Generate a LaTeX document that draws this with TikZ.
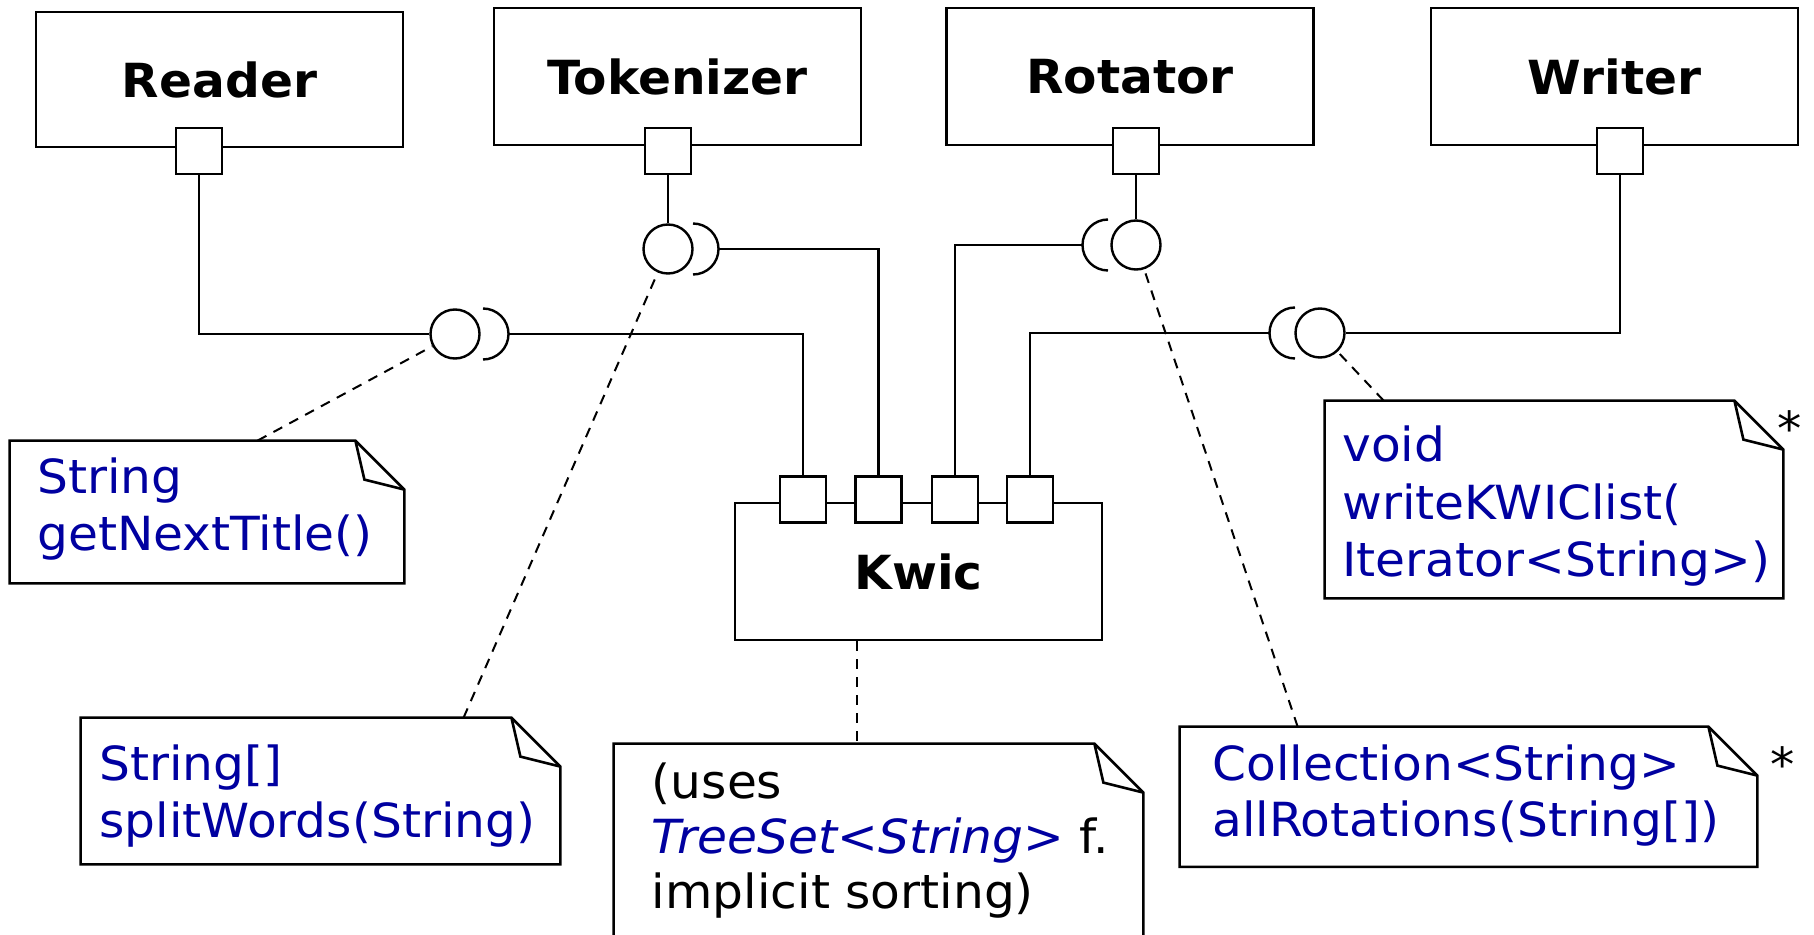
\documentclass[tikz,border=0pt]{standalone}
\usepackage{fontspec}
\setmainfont{DejaVu Sans}[FakeStretch=1.035]
\definecolor{ublue}{RGB}{0,0,160}
\begin{document}
\begin{tikzpicture}[x=0.5pt,y=-0.5pt,
  comp/.style={draw, line width=1.3pt, minimum width=183.5pt, minimum height=68.5pt, inner sep=0, font=\fontsize{23.5}{28}\selectfont\bfseries},
  port/.style={draw, fill=white, line width=1.2pt, minimum size=23pt, inner sep=0},
  ball/.style={draw, circle, line width=1.2pt, minimum size=24.5pt, inner sep=0},
  wire/.style={line width=1.2pt},
  sock/.style={line width=1.2pt},
  link/.style={line width=1pt, dash pattern=on 5pt off 4pt},
  notebox/.style={inner sep=0},
  noteline/.style={line width=1.3pt, line join=miter},
  ntext/.style={anchor=base west, inner sep=0, font=\fontsize{23.5}{28}\selectfont, text=ublue},
  btext/.style={anchor=base west, inner sep=0, font=\fontsize{23.5}{28}\selectfont, text=black},
  star/.style={anchor=base, inner sep=0, font=\fontsize{23.5}{28}\selectfont},
]
\useasboundingbox (0,0) rectangle (1814,935);
\clip (0,0) rectangle (1814,935);

% components
\node[comp, minimum height=67.5pt] (reader) at (219.5,79.5) {Reader};
\node[comp] (tok) at (677.5,76.5) {Tokenizer};
\node[comp] (rot) at (1130,76.5) {Rotator};
\node[comp] (wri) at (1614.5,76.5) {Writer};
\node[comp] (kwic) at (918.5,571.5) {Kwic};

% ports
\node[port] (rp) at (199,151) {};
\node[port] (tp) at (668,151) {};
\node[port] (op) at (1136,151) {};
\node[port] (wp) at (1620,151) {};
\node[port] (k1) at (803,499.5) {};
\node[port] (k2) at (878.5,499.5) {};
\node[port] (k3) at (955,499.5) {};
\node[port] (k4) at (1030,499.5) {};

% provided interfaces (balls)
\node[ball] (rb) at (455,334) {};
\node[ball] (tb) at (668,249) {};
\node[ball] (ob) at (1136,245) {};
\node[ball] (wb) at (1320,333) {};

% required interfaces (sockets)
\draw[sock] (483,359.5) arc[start angle=-90, end angle=90, radius=12.75pt];
\coordinate (rs) at (508.5,334);
\draw[sock] (693,274.5) arc[start angle=-90, end angle=90, radius=12.75pt];
\coordinate (ts) at (718.5,249);
\draw[sock] (1108,219.5) arc[start angle=90, end angle=270, radius=12.75pt];
\coordinate (os) at (1082.5,245);
\draw[sock] (1295,307.5) arc[start angle=90, end angle=270, radius=12.75pt];
\coordinate (ws) at (1269.5,333);

% wires
\draw[wire] (rp.south) |- (rb.west);
\draw[wire] (rs) -| (k1.north);
\draw[wire] (tp.south) -- (tb.north);
\draw[wire] (ts) -| (k2.north);
\draw[wire] (op.south) -- (ob.north);
\draw[wire] (os) -| (k3.north);
\draw[wire] (wp.south) |- (wb.east);
\draw[wire] (ws) -| (k4.north);

% notes
\node[notebox, minimum width=197pt, minimum height=71pt] (n1) at (207,512) {};
\node[notebox, minimum width=239.5pt, minimum height=73pt] (n2) at (320.5,791) {};
\node[notebox, minimum width=264.5pt, minimum height=108pt] (nk) at (878.5,852) {};
\node[notebox, minimum width=229pt, minimum height=98.5pt] (nw) at (1554,499.5) {};
\node[notebox, minimum width=288.5pt, minimum height=69.75pt] (nc) at (1468.5,796.75) {};

\foreach \n in {n1,n2,nk,nw,nc}{
  \draw[noteline] (\n.north west) -- ([xshift=-24.5pt]\n.north east) -- ([yshift=-24.5pt]\n.north east) -- (\n.south east) -- (\n.south west) -- cycle;
  \draw[noteline] ([xshift=-24.5pt]\n.north east) -- ([xshift=-20pt,yshift=-19.5pt]\n.north east) -- ([yshift=-24.5pt]\n.north east);
}

% note texts
\node[ntext] (n1a) at (37,493) {String};
\node[ntext] (n1b) at (37,550) {getNextTitle()};
\node[ntext] (n2a) at (99,780) {String[]};
\node[ntext] (n2b) at (99,837) {splitWords(String)};
\node[btext] (nka) at (651.5,798) {(uses};
\node[btext] (nkb) at (651.5,853) {\textcolor{ublue}{\itshape TreeSet<String>} f.};
\node[btext] (nkc) at (651.5,908) {implicit sorting)};
\node[ntext] (nwa) at (1342,461) {void};
\node[ntext] (nwb) at (1342,519) {writeKWIClist(};
\node[ntext] (nwc) at (1342,576) {Iterator<String>)};
\node[ntext] (nca) at (1212,780) {Collection<String>};
\node[ntext] (ncb) at (1212,836.5) {allRotations(String[])};
\node[star] (s1) at (1790,445) {*};
\node[star] (s2) at (1783,781) {*};

% note links
\draw[link] ([xshift=124pt]n1.north west) -- (rb);
\draw[link] ([xshift=191.5pt]n2.north west) -- (tb);
\draw[link] ([xshift=-31pt]kwic.south) -- ([xshift=-31pt]kwic.south |- nk.north);
\draw[link] ([xshift=29.5pt]nw.north west) -- (wb);
\draw[link] ([xshift=59pt]nc.north west) -- (ob);
\end{tikzpicture}
\end{document}
